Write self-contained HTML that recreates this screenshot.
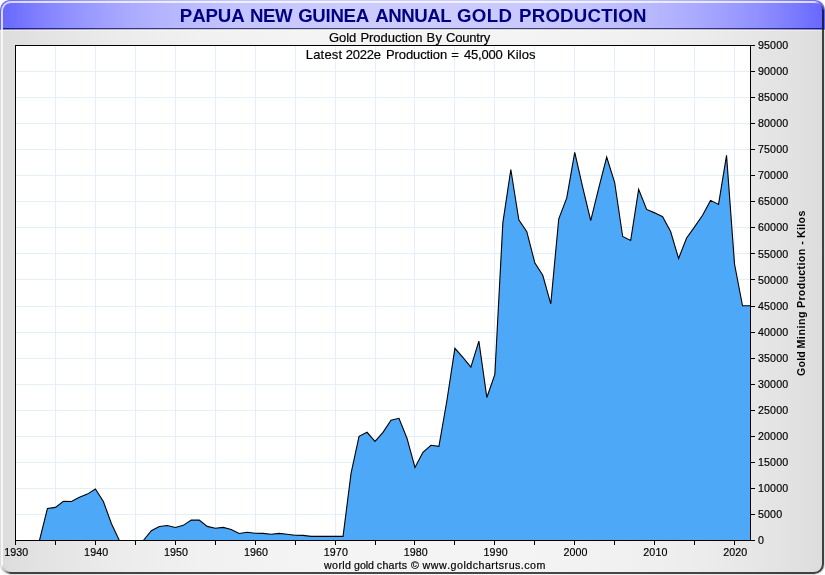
<!DOCTYPE html>
<html><head><meta charset="utf-8"><title>Papua New Guinea Annual Gold Production</title>
<style>
html,body{margin:0;padding:0;background:#fff;}
body{width:825px;height:575px;overflow:hidden;}
svg{display:block;font-family:"Liberation Sans",Arial,sans-serif;}
.t8{font-size:10.67px;fill:#000;letter-spacing:0.12px;}
text{stroke-linejoin:round;font-kerning:none;}
.k{stroke:#000;stroke-width:0.18px;}
</style></head><body>
<svg width="825" height="575" viewBox="0 0 825 575">
<defs>
<linearGradient id="metal" gradientUnits="userSpaceOnUse" x1="0" x2="825" y1="0" y2="0">
<stop offset="0.0000" stop-color="#dcdcdc"/>
<stop offset="0.0417" stop-color="#e2e2e2"/>
<stop offset="0.0833" stop-color="#e6e6e6"/>
<stop offset="0.1250" stop-color="#eaeaea"/>
<stop offset="0.1667" stop-color="#ededed"/>
<stop offset="0.2083" stop-color="#efefef"/>
<stop offset="0.2500" stop-color="#f1f1f1"/>
<stop offset="0.2917" stop-color="#f2f2f2"/>
<stop offset="0.3333" stop-color="#f3f3f3"/>
<stop offset="0.3750" stop-color="#f4f4f4"/>
<stop offset="0.4167" stop-color="#f4f4f4"/>
<stop offset="0.4583" stop-color="#f4f4f4"/>
<stop offset="0.5000" stop-color="#f4f4f4"/>
<stop offset="0.5417" stop-color="#f4f4f4"/>
<stop offset="0.5833" stop-color="#f4f4f4"/>
<stop offset="0.6250" stop-color="#f4f4f4"/>
<stop offset="0.6667" stop-color="#f3f3f3"/>
<stop offset="0.7083" stop-color="#f2f2f2"/>
<stop offset="0.7500" stop-color="#f1f1f1"/>
<stop offset="0.7917" stop-color="#efefef"/>
<stop offset="0.8333" stop-color="#ededed"/>
<stop offset="0.8750" stop-color="#eaeaea"/>
<stop offset="0.9167" stop-color="#e6e6e6"/>
<stop offset="0.9583" stop-color="#e2e2e2"/>
<stop offset="1.0000" stop-color="#dcdcdc"/>
</linearGradient>
<linearGradient id="ttl" gradientUnits="userSpaceOnUse" x1="0" x2="825" y1="0" y2="0">
<stop offset="0.0000" stop-color="#6666ff"/>
<stop offset="0.0417" stop-color="#7d7dff"/>
<stop offset="0.0833" stop-color="#9191ff"/>
<stop offset="0.1250" stop-color="#a0a0ff"/>
<stop offset="0.1667" stop-color="#adadff"/>
<stop offset="0.2083" stop-color="#b7b7ff"/>
<stop offset="0.2500" stop-color="#bebeff"/>
<stop offset="0.2917" stop-color="#c4c4ff"/>
<stop offset="0.3333" stop-color="#c7c7ff"/>
<stop offset="0.3750" stop-color="#c9c9ff"/>
<stop offset="0.4167" stop-color="#cbcbff"/>
<stop offset="0.4583" stop-color="#cbcbff"/>
<stop offset="0.5000" stop-color="#cbcbff"/>
<stop offset="0.5417" stop-color="#cbcbff"/>
<stop offset="0.5833" stop-color="#cbcbff"/>
<stop offset="0.6250" stop-color="#c9c9ff"/>
<stop offset="0.6667" stop-color="#c7c7ff"/>
<stop offset="0.7083" stop-color="#c4c4ff"/>
<stop offset="0.7500" stop-color="#bebeff"/>
<stop offset="0.7917" stop-color="#b7b7ff"/>
<stop offset="0.8333" stop-color="#adadff"/>
<stop offset="0.8750" stop-color="#a0a0ff"/>
<stop offset="0.9167" stop-color="#9191ff"/>
<stop offset="0.9583" stop-color="#7d7dff"/>
<stop offset="1.0000" stop-color="#6666ff"/>
</linearGradient>
<linearGradient id="ctr" gradientUnits="userSpaceOnUse" x1="815" y1="2" x2="823" y2="10">
<stop offset="0" stop-color="#fff" stop-opacity="0.75"/><stop offset="0.45" stop-color="#888" stop-opacity="0.3"/><stop offset="1" stop-color="#000" stop-opacity="0.71"/></linearGradient>
<linearGradient id="cbl" gradientUnits="userSpaceOnUse" x1="2" y1="565" x2="10" y2="573">
<stop offset="0" stop-color="#fff" stop-opacity="0.75"/><stop offset="0.45" stop-color="#888" stop-opacity="0.3"/><stop offset="1" stop-color="#000" stop-opacity="0.71"/></linearGradient>
<clipPath id="frame"><rect x="0" y="0" width="825" height="575" rx="10" ry="10"/></clipPath>
<clipPath id="inner"><rect x="3" y="3" width="819" height="569" rx="7.5" ry="7.5"/></clipPath>
</defs>
<!-- frame -->
<rect x="0" y="0" width="825" height="575" rx="10" ry="10" fill="url(#metal)"/>
<g clip-path="url(#frame)">
<rect x="0" y="0" width="825" height="30" fill="url(#ttl)"/>
<rect x="3" y="28" width="819" height="1" fill="#000" fill-opacity="0.66"/>
<rect x="0" y="29" width="825" height="1" fill="#fff" fill-opacity="0.15"/>
<rect x="0" y="30" width="825" height="1" fill="#fffff0" fill-opacity="0.45"/>
</g>
<!-- bevel -->
<path d="M2,564 L2,11 A9,9 0 0 1 11,2 L814,2" fill="none" stroke="#ffffff" stroke-opacity="0.75" stroke-width="2"/>
<path d="M823,11 L823,564 A9,9 0 0 1 814,573 L11,573" fill="none" stroke="#000000" stroke-opacity="0.71" stroke-width="2"/>
<path d="M814,2 A9,9 0 0 1 823,11" fill="none" stroke="url(#ctr)" stroke-width="2"/>
<path d="M2,564 A9,9 0 0 0 11,573" fill="none" stroke="url(#cbl)" stroke-width="2"/>
<!-- title -->
<text x="179.85" y="22" font-size="18.67px" font-weight="bold" fill="#000080" letter-spacing="-0.125px">PAPUA</text>
<text x="249.95" y="22" font-size="18.67px" font-weight="bold" fill="#000080" letter-spacing="-0.425px">NEW</text>
<text x="298.15" y="22" font-size="18.67px" font-weight="bold" fill="#000080" letter-spacing="-0.290px">GUINEA</text>
<text x="375.20" y="22" font-size="18.67px" font-weight="bold" fill="#000080" letter-spacing="-0.470px">ANNUAL</text>
<text x="456.95" y="22" font-size="18.67px" font-weight="bold" fill="#000080" letter-spacing="0.400px">GOLD</text>
<text x="519.05" y="22" font-size="18.67px" font-weight="bold" fill="#000080" letter-spacing="0.211px">PRODUCTION</text>
<text class="k" x="329.05" y="42" font-size="13px" fill="#000" letter-spacing="-0.067px">Gold</text>
<text class="k" x="360.40" y="42" font-size="13px" fill="#000" letter-spacing="-0.017px">Production</text>
<text class="k" x="426.40" y="42" font-size="13px" fill="#000" letter-spacing="0.500px">By</text>
<text class="k" x="445.95" y="42" font-size="13px" fill="#000" letter-spacing="-0.192px">Country</text>
<!-- plot -->
<rect x="15.5" y="45.5" width="735" height="495" fill="#ffffff"/>
<g stroke="#e3f0fa" stroke-width="1" shape-rendering="crispEdges">
<line x1="16" x2="750" y1="514.45" y2="514.45"/>
<line x1="16" x2="750" y1="488.39" y2="488.39"/>
<line x1="16" x2="750" y1="462.34" y2="462.34"/>
<line x1="16" x2="750" y1="436.29" y2="436.29"/>
<line x1="16" x2="750" y1="410.24" y2="410.24"/>
<line x1="16" x2="750" y1="384.18" y2="384.18"/>
<line x1="16" x2="750" y1="358.13" y2="358.13"/>
<line x1="16" x2="750" y1="332.08" y2="332.08"/>
<line x1="16" x2="750" y1="306.03" y2="306.03"/>
<line x1="16" x2="750" y1="279.97" y2="279.97"/>
<line x1="16" x2="750" y1="253.92" y2="253.92"/>
<line x1="16" x2="750" y1="227.87" y2="227.87"/>
<line x1="16" x2="750" y1="201.82" y2="201.82"/>
<line x1="16" x2="750" y1="175.76" y2="175.76"/>
<line x1="16" x2="750" y1="149.71" y2="149.71"/>
<line x1="16" x2="750" y1="123.66" y2="123.66"/>
<line x1="16" x2="750" y1="97.61" y2="97.61"/>
<line x1="16" x2="750" y1="71.55" y2="71.55"/>
<line x1="55.44565217391304" x2="55.44565217391304" y1="46" y2="540"/>
<line x1="95.39130434782608" x2="95.39130434782608" y1="46" y2="540"/>
<line x1="135.33695652173913" x2="135.33695652173913" y1="46" y2="540"/>
<line x1="175.28260869565216" x2="175.28260869565216" y1="46" y2="540"/>
<line x1="215.22826086956522" x2="215.22826086956522" y1="46" y2="540"/>
<line x1="255.17391304347825" x2="255.17391304347825" y1="46" y2="540"/>
<line x1="295.1195652173913" x2="295.1195652173913" y1="46" y2="540"/>
<line x1="335.0652173913043" x2="335.0652173913043" y1="46" y2="540"/>
<line x1="375.0108695652174" x2="375.0108695652174" y1="46" y2="540"/>
<line x1="414.95652173913044" x2="414.95652173913044" y1="46" y2="540"/>
<line x1="454.90217391304344" x2="454.90217391304344" y1="46" y2="540"/>
<line x1="494.8478260869565" x2="494.8478260869565" y1="46" y2="540"/>
<line x1="534.7934782608695" x2="534.7934782608695" y1="46" y2="540"/>
<line x1="574.7391304347826" x2="574.7391304347826" y1="46" y2="540"/>
<line x1="614.6847826086956" x2="614.6847826086956" y1="46" y2="540"/>
<line x1="654.6304347826086" x2="654.6304347826086" y1="46" y2="540"/>
<line x1="694.5760869565217" x2="694.5760869565217" y1="46" y2="540"/>
<line x1="734.5217391304348" x2="734.5217391304348" y1="46" y2="540"/>
</g>
<path d="M39.47,540.5 L39.47,540.50 L47.46,508.42 L55.45,507.37 L63.43,501.38 L71.42,501.49 L79.41,497.21 L87.40,494.09 L95.39,488.98 L103.38,501.49 L111.37,523.53 L119.36,540.50 L127.35,540.50 L135.34,540.50 L143.33,540.50 L151.32,530.74 L159.30,526.52 L167.29,525.51 L175.28,527.54 L183.27,525.35 L191.26,520.14 L199.25,520.14 L207.24,526.39 L215.23,528.27 L223.22,527.38 L231.21,529.44 L239.20,533.50 L247.18,532.28 L255.17,533.22 L263.16,533.37 L271.15,534.23 L279.14,533.37 L287.13,534.23 L295.12,535.25 L303.11,535.41 L311.10,536.42 L319.09,536.42 L327.08,536.42 L335.07,536.42 L343.05,536.42 L351.04,473.45 L359.03,436.35 L367.02,432.29 L375.01,441.36 L383.00,432.29 L390.99,420.25 L398.98,418.33 L406.97,438.23 L414.96,467.51 L422.95,452.30 L430.93,445.26 L438.92,446.36 L446.91,400.51 L454.90,348.35 L462.89,357.41 L470.88,367.11 L478.87,341.16 L486.86,397.48 L494.85,374.51 L502.84,222.88 L510.83,169.47 L518.82,219.75 L526.80,231.63 L534.79,262.74 L542.78,275.24 L550.77,303.95 L558.76,218.81 L566.75,197.87 L574.74,152.38 L582.73,187.29 L590.72,220.69 L598.71,188.12 L606.70,157.12 L614.68,182.50 L622.67,236.48 L630.66,240.49 L638.65,189.38 L646.64,209.44 L654.63,212.87 L662.62,216.68 L670.61,231.53 L678.60,258.47 L686.59,238.04 L694.58,226.84 L702.57,215.27 L710.55,200.37 L718.54,204.43 L726.53,155.35 L734.52,264.04 L742.51,305.73 L750.50,305.73 L750.50,540.5 Z" fill="#4da8f7" stroke="none"/>
<polyline points="39.47,540.50 47.46,508.42 55.45,507.37 63.43,501.38 71.42,501.49 79.41,497.21 87.40,494.09 95.39,488.98 103.38,501.49 111.37,523.53 119.36,540.50 127.35,540.50 135.34,540.50 143.33,540.50 151.32,530.74 159.30,526.52 167.29,525.51 175.28,527.54 183.27,525.35 191.26,520.14 199.25,520.14 207.24,526.39 215.23,528.27 223.22,527.38 231.21,529.44 239.20,533.50 247.18,532.28 255.17,533.22 263.16,533.37 271.15,534.23 279.14,533.37 287.13,534.23 295.12,535.25 303.11,535.41 311.10,536.42 319.09,536.42 327.08,536.42 335.07,536.42 343.05,536.42 351.04,473.45 359.03,436.35 367.02,432.29 375.01,441.36 383.00,432.29 390.99,420.25 398.98,418.33 406.97,438.23 414.96,467.51 422.95,452.30 430.93,445.26 438.92,446.36 446.91,400.51 454.90,348.35 462.89,357.41 470.88,367.11 478.87,341.16 486.86,397.48 494.85,374.51 502.84,222.88 510.83,169.47 518.82,219.75 526.80,231.63 534.79,262.74 542.78,275.24 550.77,303.95 558.76,218.81 566.75,197.87 574.74,152.38 582.73,187.29 590.72,220.69 598.71,188.12 606.70,157.12 614.68,182.50 622.67,236.48 630.66,240.49 638.65,189.38 646.64,209.44 654.63,212.87 662.62,216.68 670.61,231.53 678.60,258.47 686.59,238.04 694.58,226.84 702.57,215.27 710.55,200.37 718.54,204.43 726.53,155.35 734.52,264.04 742.51,305.73 750.50,305.73" fill="none" stroke="#000" stroke-width="1.1" stroke-linejoin="miter"/>
<rect x="15.5" y="45.5" width="735" height="495" fill="none" stroke="#000" stroke-width="1" shape-rendering="crispEdges"/>
<g stroke="#000" stroke-width="1" shape-rendering="crispEdges">
<line x1="15.5" x2="15.5" y1="541" y2="545"/>
<line x1="55.44565217391304" x2="55.44565217391304" y1="541" y2="545"/>
<line x1="95.39130434782608" x2="95.39130434782608" y1="541" y2="545"/>
<line x1="135.33695652173913" x2="135.33695652173913" y1="541" y2="545"/>
<line x1="175.28260869565216" x2="175.28260869565216" y1="541" y2="545"/>
<line x1="215.22826086956522" x2="215.22826086956522" y1="541" y2="545"/>
<line x1="255.17391304347825" x2="255.17391304347825" y1="541" y2="545"/>
<line x1="295.1195652173913" x2="295.1195652173913" y1="541" y2="545"/>
<line x1="335.0652173913043" x2="335.0652173913043" y1="541" y2="545"/>
<line x1="375.0108695652174" x2="375.0108695652174" y1="541" y2="545"/>
<line x1="414.95652173913044" x2="414.95652173913044" y1="541" y2="545"/>
<line x1="454.90217391304344" x2="454.90217391304344" y1="541" y2="545"/>
<line x1="494.8478260869565" x2="494.8478260869565" y1="541" y2="545"/>
<line x1="534.7934782608695" x2="534.7934782608695" y1="541" y2="545"/>
<line x1="574.7391304347826" x2="574.7391304347826" y1="541" y2="545"/>
<line x1="614.6847826086956" x2="614.6847826086956" y1="541" y2="545"/>
<line x1="654.6304347826086" x2="654.6304347826086" y1="541" y2="545"/>
<line x1="694.5760869565217" x2="694.5760869565217" y1="541" y2="545"/>
<line x1="734.5217391304348" x2="734.5217391304348" y1="541" y2="545"/>
<line x1="751" x2="755" y1="540.50" y2="540.50"/>
<line x1="751" x2="755" y1="514.45" y2="514.45"/>
<line x1="751" x2="755" y1="488.39" y2="488.39"/>
<line x1="751" x2="755" y1="462.34" y2="462.34"/>
<line x1="751" x2="755" y1="436.29" y2="436.29"/>
<line x1="751" x2="755" y1="410.24" y2="410.24"/>
<line x1="751" x2="755" y1="384.18" y2="384.18"/>
<line x1="751" x2="755" y1="358.13" y2="358.13"/>
<line x1="751" x2="755" y1="332.08" y2="332.08"/>
<line x1="751" x2="755" y1="306.03" y2="306.03"/>
<line x1="751" x2="755" y1="279.97" y2="279.97"/>
<line x1="751" x2="755" y1="253.92" y2="253.92"/>
<line x1="751" x2="755" y1="227.87" y2="227.87"/>
<line x1="751" x2="755" y1="201.82" y2="201.82"/>
<line x1="751" x2="755" y1="175.76" y2="175.76"/>
<line x1="751" x2="755" y1="149.71" y2="149.71"/>
<line x1="751" x2="755" y1="123.66" y2="123.66"/>
<line x1="751" x2="755" y1="97.61" y2="97.61"/>
<line x1="751" x2="755" y1="71.55" y2="71.55"/>
<line x1="751" x2="755" y1="45.50" y2="45.50"/>
</g>
<g class="t8 k">
<text x="16.30" y="555.5" text-anchor="middle">1930</text>
<text x="96.19" y="555.5" text-anchor="middle">1940</text>
<text x="176.08" y="555.5" text-anchor="middle">1950</text>
<text x="255.97" y="555.5" text-anchor="middle">1960</text>
<text x="335.87" y="555.5" text-anchor="middle">1970</text>
<text x="415.76" y="555.5" text-anchor="middle">1980</text>
<text x="495.65" y="555.5" text-anchor="middle">1990</text>
<text x="575.54" y="555.5" text-anchor="middle">2000</text>
<text x="655.43" y="555.5" text-anchor="middle">2010</text>
<text x="735.32" y="555.5" text-anchor="middle">2020</text>
<text x="758" y="544.10">0</text>
<text x="758" y="518.05">5000</text>
<text x="758" y="491.99">10000</text>
<text x="758" y="465.94">15000</text>
<text x="758" y="439.89">20000</text>
<text x="758" y="413.84">25000</text>
<text x="758" y="387.78">30000</text>
<text x="758" y="361.73">35000</text>
<text x="758" y="335.68">40000</text>
<text x="758" y="309.63">45000</text>
<text x="758" y="283.57">50000</text>
<text x="758" y="257.52">55000</text>
<text x="758" y="231.47">60000</text>
<text x="758" y="205.42">65000</text>
<text x="758" y="179.36">70000</text>
<text x="758" y="153.31">75000</text>
<text x="758" y="127.26">80000</text>
<text x="758" y="101.21">85000</text>
<text x="758" y="75.15">90000</text>
<text x="758" y="49.10">95000</text>
</g>
<text class="k" x="305.80" y="58.5" font-size="13px" fill="#000" letter-spacing="0.170px">Latest</text>
<text class="k" x="345.75" y="58.5" font-size="13px" fill="#000" letter-spacing="-0.237px">2022e</text>
<text class="k" x="386.00" y="58.5" font-size="13px" fill="#000" letter-spacing="-0.106px">Production</text>
<text class="k" x="451.35" y="58.5" font-size="13px" fill="#000" letter-spacing="0.000px">=</text>
<text class="k" x="463.95" y="58.5" font-size="13px" fill="#000" letter-spacing="-0.180px">45,000</text>
<text class="k" x="507.10" y="58.5" font-size="13px" fill="#000" letter-spacing="0.037px">Kilos</text>
<g transform="translate(804.5,375.6) rotate(-90)"><text x="-0.50" y="0" font-size="10.67px" font-weight="bold" fill="#000" letter-spacing="0.233px">Gold</text>
<text x="27.05" y="0" font-size="10.67px" font-weight="bold" fill="#000" letter-spacing="0.550px">Mining</text>
<text x="67.55" y="0" font-size="10.67px" font-weight="bold" fill="#000" letter-spacing="0.328px">Production</text>
<text x="130.80" y="0" font-size="10.67px" font-weight="bold" fill="#000" letter-spacing="0.000px">-</text>
<text x="137.65" y="0" font-size="10.67px" font-weight="bold" fill="#000" letter-spacing="0.312px">Kilos</text></g>
<text class="k" x="324.00" y="569" font-size="10.67px" fill="#000" letter-spacing="0.388px">world</text>
<text class="k" x="354.10" y="569" font-size="10.67px" fill="#000" letter-spacing="-0.133px">gold</text>
<text class="k" x="376.80" y="569" font-size="10.67px" fill="#000" letter-spacing="0.270px">charts</text>
<text class="k" x="411.05" y="569" font-size="10.67px" fill="#000" letter-spacing="0.000px">©</text>
<text class="k" x="422.60" y="569" font-size="10.67px" fill="#000" letter-spacing="0.485px">www.goldchartsrus.com</text>
</svg>
</body></html>
